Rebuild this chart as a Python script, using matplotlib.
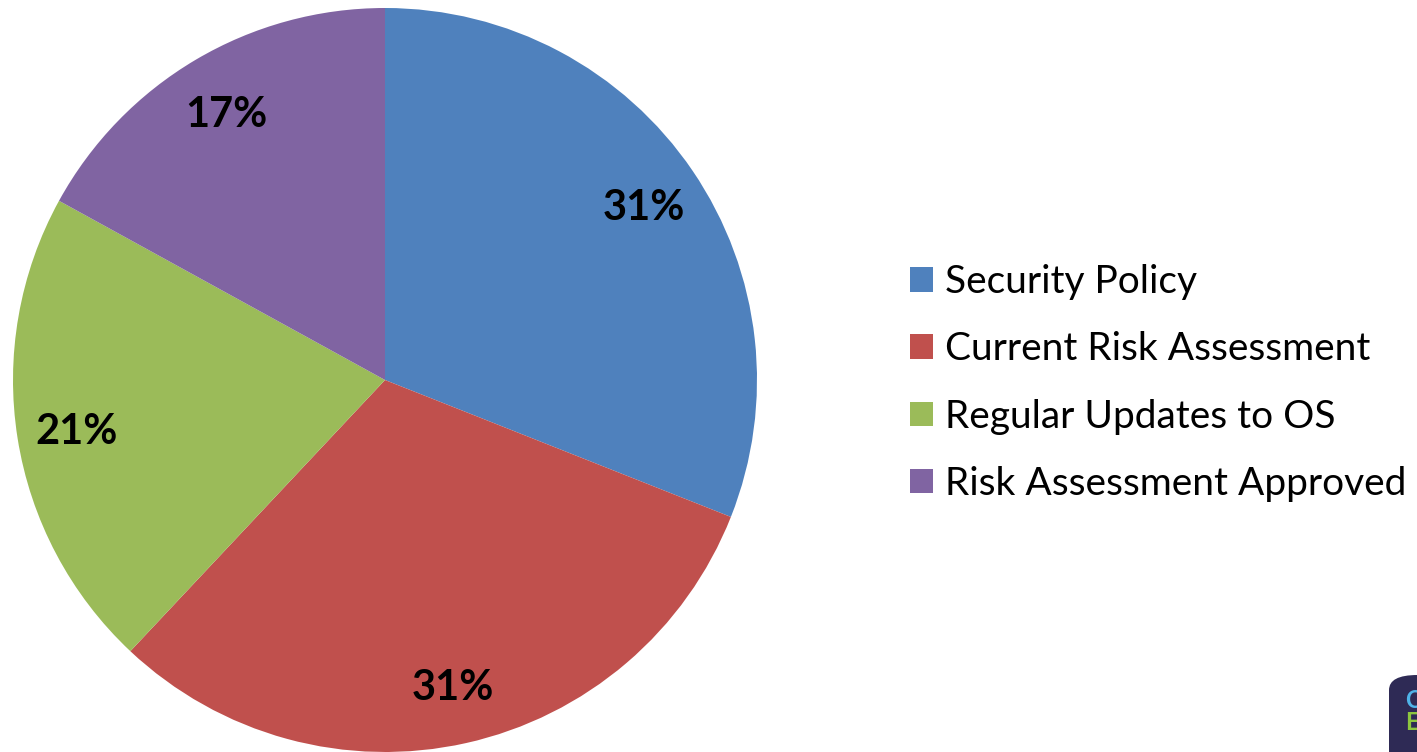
import matplotlib.pyplot as plt
from matplotlib.patches import FancyBboxPatch

categories = ['Security Policy', 'Current Risk Assessment', 'Regular Updates to OS', 'Risk Assessment Approved']
shares = [31, 31, 21, 17]
cols = ['#4F81BD', '#C0504D', '#9BBB59', '#8064A2']

plt.rcParams['font.family'] = ['Lato', 'DejaVu Sans']

W, H = 1417, 752
fig = plt.figure(figsize=(W / 100, H / 100), dpi=100)

# pie centred at (385, 380) px, radius 372 px
cx, cy, r = 385, 380, 372
ax = fig.add_axes([(cx - r) / W, (H - cy - r) / H, 2 * r / W, 2 * r / H])
wedges, texts, autotexts = ax.pie(shares,
                                  colors=cols,
                                  startangle=90,
                                  counterclock=False,
                                  radius=1,
                                  autopct='%1.0f%%',
                                  pctdistance=0.84,
                                  textprops={'fontsize': 30, 'fontweight': 'bold', 'color': 'black'})
for t in autotexts:
    t.set_va('center_baseline')
ax.set_xlim(-1, 1)
ax.set_ylim(-1, 1)
ax.set_aspect('equal')
ax.axis('off')

fig.legend(wedges, categories,
           loc='center left',
           bbox_to_anchor=(910 / W, (H - cy - 3) / H),
           frameon=False,
           fontsize=28,
           handlelength=0.6,
           handleheight=0.6,
           handletextpad=0.3,
           labelspacing=0.8,
           borderpad=0,
           borderaxespad=0)

# cropped logo badge in the bottom-right corner
badge = FancyBboxPatch((1389 / W, -0.05), 0.1, (752 - 675) / H + 0.05,
                       boxstyle='round,pad=0,rounding_size=0.02',
                       transform=fig.transFigure, facecolor='#2E2A55',
                       edgecolor='none', clip_on=False)
fig.patches.append(badge)
fig.text(1405 / W, (H - 700) / H, 'C', color='#4FB3E8', fontsize=17, fontweight='bold', va='center')
fig.text(1405 / W, (H - 723) / H, 'E', color='#8DC63F', fontsize=17, fontweight='bold', va='center')

fig.savefig('out.png', dpi=100)
